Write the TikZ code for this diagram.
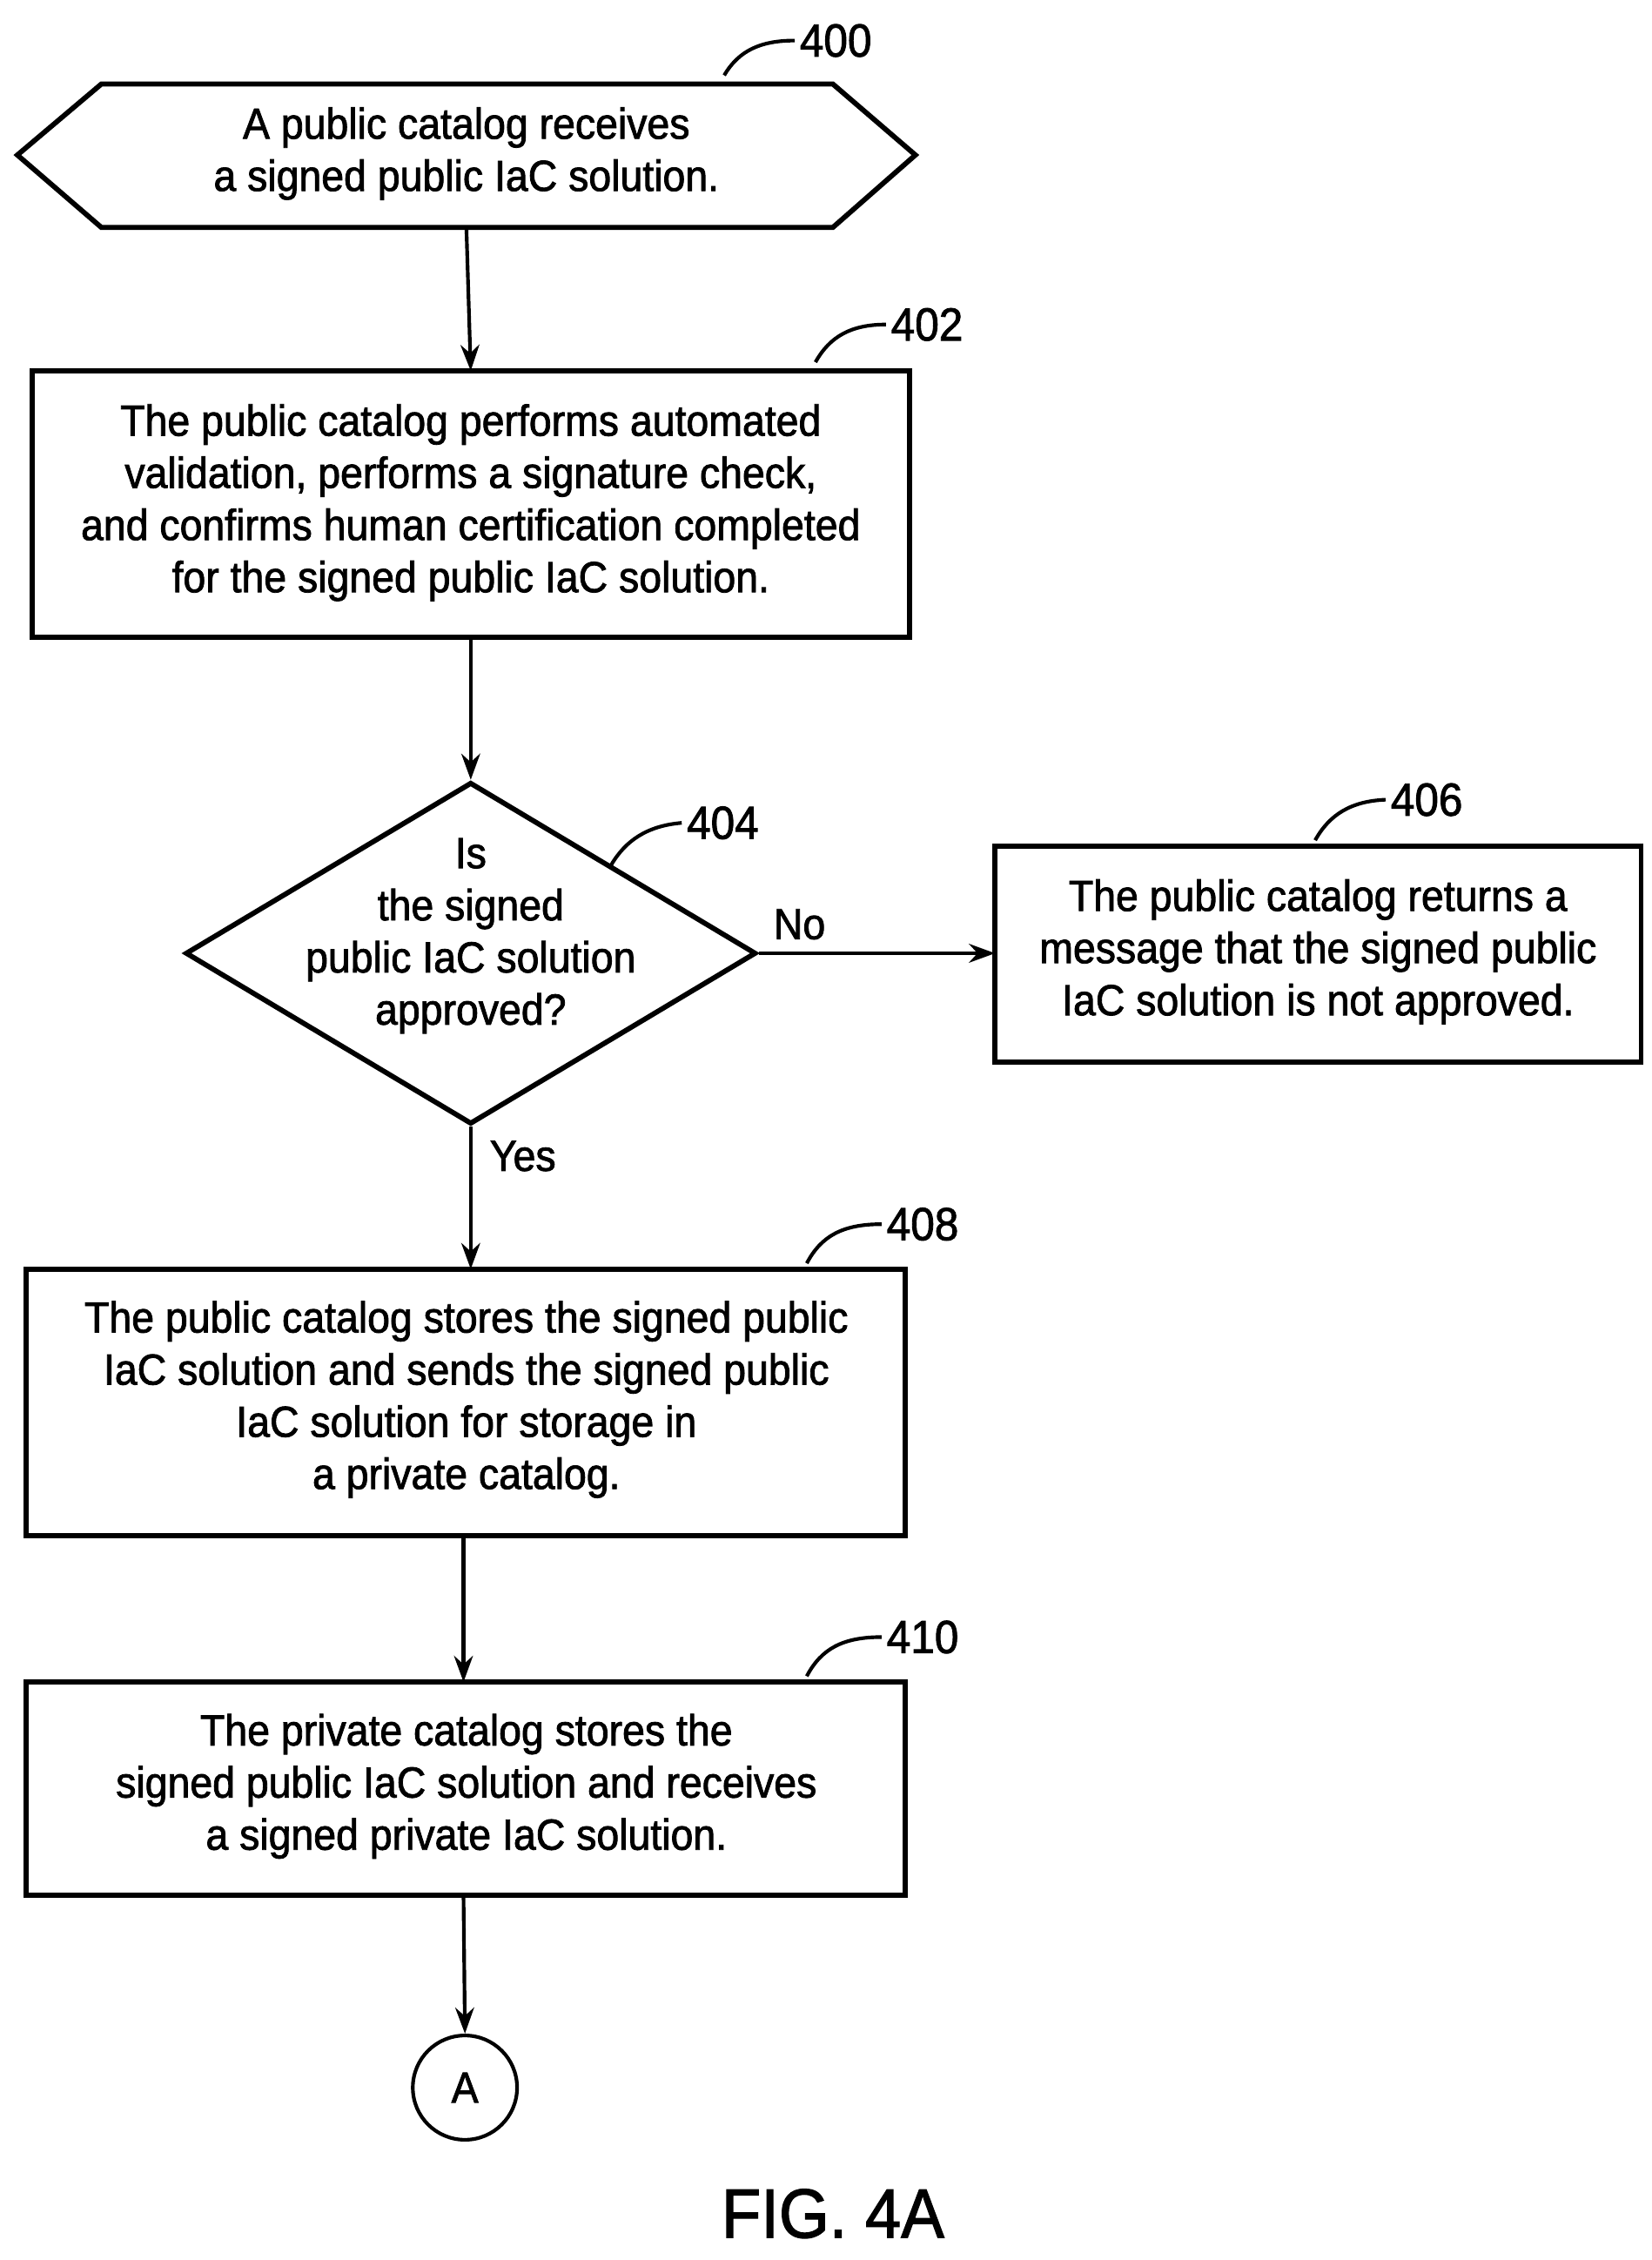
\documentclass[tikz,border=0pt]{standalone}
\usepackage{fontspec}
\setmainfont[FakeStretch=0.93,FakeBold=1.6]{Liberation Sans}
\usetikzlibrary{shapes.geometric,arrows.meta}
\begin{document}
\begin{tikzpicture}[x=1pt,y=-1pt,
  txt/.style={font=\fontsize{30}{36}\selectfont,align=center},
  box/.style={draw,line width=3.5pt},
  lbl/.style={font=\fontsize{32}{36}\selectfont},
  arr/.style={line width=2.5pt,-{Stealth[length=18pt,width=13pt]}},
  lead/.style={line width=2.5pt}]
\useasboundingbox (0,0) rectangle (1140,1560);
% 400
\draw[box] (12,107) -- (70,58) -- (575,58) -- (632,107) -- (575,157) -- (70,157) -- cycle;
\node[txt] (n400) at (322,106) {A public catalog receives\\a signed public IaC solution.};
\coordinate (b400) at (322,157);
\node[lbl] (l400) at (577,28) {400};
\draw[lead] (500,52) .. controls (510,35) and (525,28) .. (l400.west);
% 402
\draw[box] (22,256) rectangle (628,440);
\node[txt] (n402) at (325,347) {The public catalog performs automated\\validation, performs a signature check,\\and confirms human certification completed\\for the signed public IaC solution.};
\coordinate (t402) at (325,256); \coordinate (b402) at (325,440);
\node[lbl] (l402) at (640,224) {402};
\draw[lead] (563,250) .. controls (573,232) and (588,224) .. (l402.west);
% 404
\node[draw,line width=3.5pt,diamond,minimum width=394pt,minimum height=236pt,inner sep=0pt,aspect=1.67] (d404) at (325,658) {};
\node[txt] at (325,646) {Is\\the signed\\public IaC solution\\approved?};
\node[lbl] (l404) at (499,568) {404};
\draw[lead] (422,597) .. controls (432,580) and (447,570) .. (l404.west);
% 406
\draw[box] (687,584) rectangle (1133,733);
\node[txt] (n406) at (910,657) {The public catalog returns a\\message that the signed public\\IaC solution is not approved.};
\coordinate (w406) at (687,658);
\node[lbl] (l406) at (985,552) {406};
\draw[lead] (908,580) .. controls (918,562) and (933,553) .. (l406.west);
\node[txt] at (552,638) {No};
\node[txt] at (361,798) {Yes};
% 408
\draw[box] (18,876) rectangle (625,1060);
\node[txt] (n408) at (322,966) {The public catalog stores the signed public\\IaC solution and sends the signed public\\IaC solution for storage in\\a private catalog.};
\coordinate (t408) at (322,876); \coordinate (b408) at (320,1060);
\node[lbl] (l408) at (637,845) {408};
\draw[lead] (557,872) .. controls (567,853) and (582,845) .. (l408.west);
% 410
\draw[box] (18,1161) rectangle (625,1308);
\node[txt] (n410) at (322,1233) {The private catalog stores the\\signed public IaC solution and receives\\a signed private IaC solution.};
\coordinate (t410) at (320,1161); \coordinate (b410) at (320,1308);
\node[lbl] (l410) at (637,1130) {410};
\draw[lead] (557,1157) .. controls (567,1138) and (582,1130) .. (l410.west);
% A
\node[draw,circle,line width=2.5pt,minimum size=72pt,inner sep=0pt,txt] (A) at (321,1441) {A};
% arrows
\draw[arr] (b400) -- (t402);
\draw[arr] (b402) -- (d404.north);
\draw[arr] (d404.east) -- (w406);
\draw[arr] (d404.south) -- (325,876);
\draw[arr] (b408) -- (t410);
\draw[arr] (b410) -- (A.north);
\node[font=\fontsize{48}{52}\selectfont] at (575,1528) {FIG. 4A};
\end{tikzpicture}
\end{document}
